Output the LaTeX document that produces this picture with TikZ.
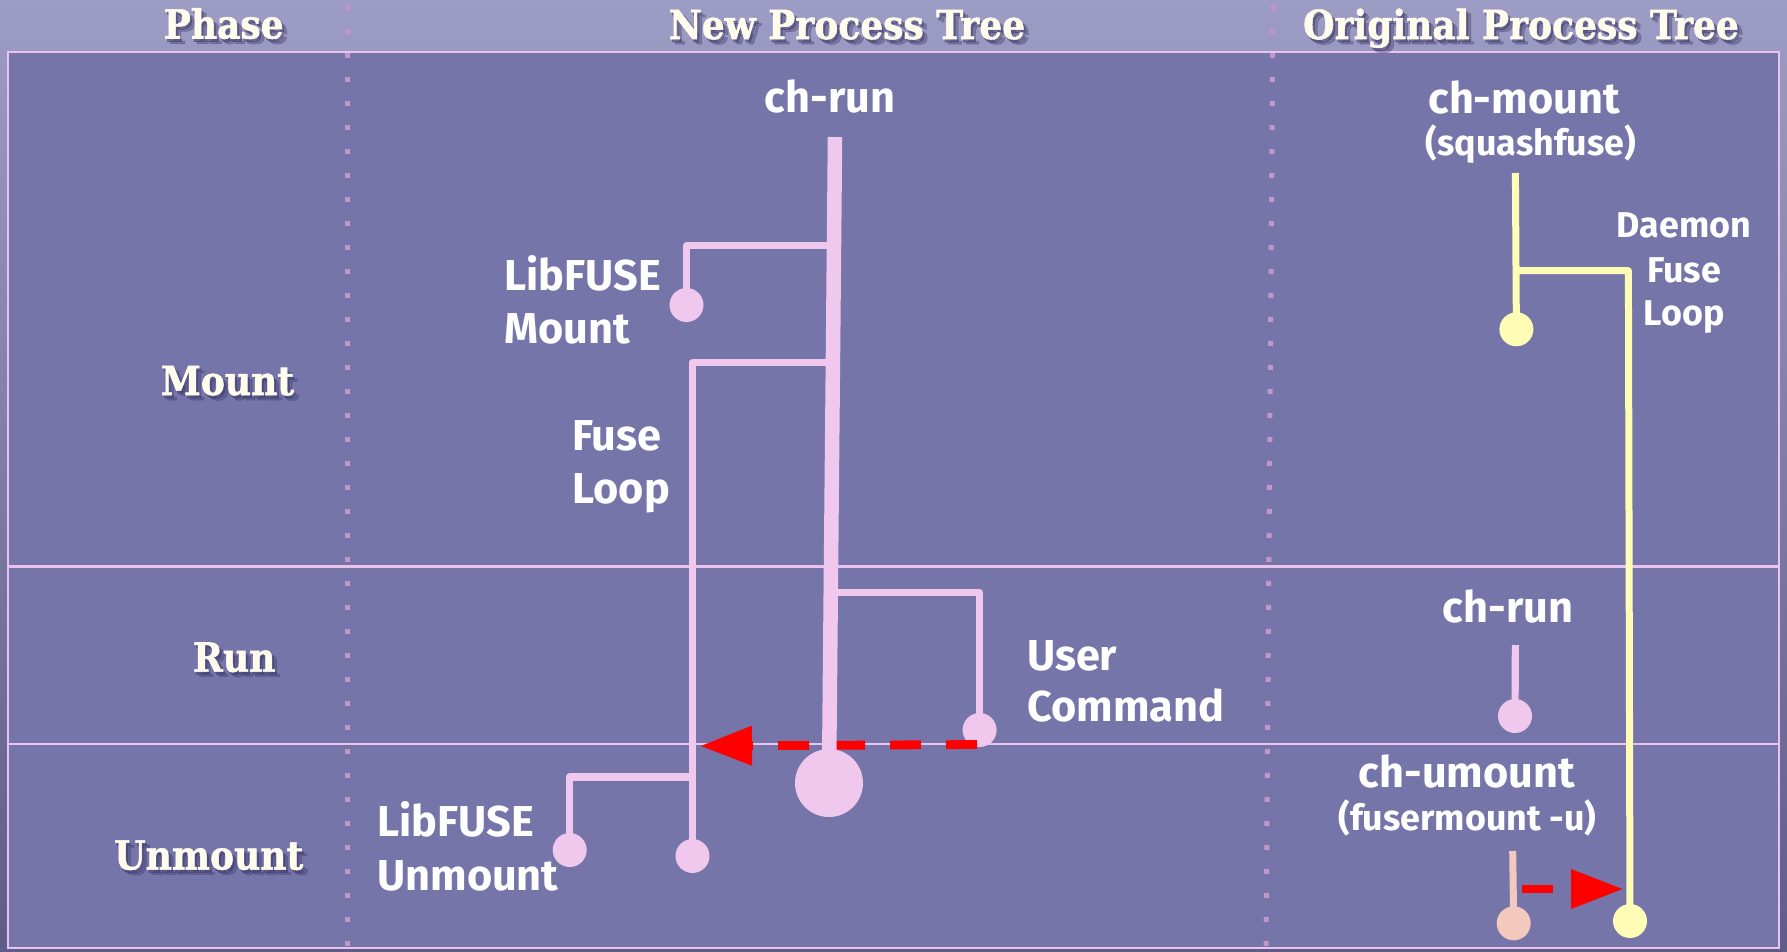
\documentclass[tikz,border=0pt]{standalone}
\usepackage{fontspec}
\setmainfont{Fira Sans}
\newfontfamily\slab{DejaVu Serif Condensed}[BoldFeatures={FakeBold=1.3}]
\usetikzlibrary{arrows.meta}
\definecolor{bgtop}{HTML}{9D9CC4}
\definecolor{bgbot}{HTML}{5E5C89}
\definecolor{panel}{HTML}{7575AA}
\definecolor{frame}{HTML}{EAC3EC}
\definecolor{dotc}{HTML}{C396CA}
\definecolor{pinkc}{HTML}{F0C8EE}
\definecolor{yellowc}{HTML}{FFFDB5}
\definecolor{peachc}{HTML}{F4C9BD}
\definecolor{cream}{HTML}{FFFCEE}
\definecolor{shadowc}{HTML}{3A3666}
\tikzset{
  lbl/.style={font=\bfseries\fontsize{12.3}{14}\selectfont, text=white, inner sep=0pt},
  sublbl/.style={font=\bfseries\fontsize{10.2}{12}\selectfont, text=white, inner sep=0pt},
  slabtxt/.style={font=\slab\bfseries\fontsize{11.4}{13}\selectfont, text=cream, inner sep=0pt, anchor=base},
  dotnode/.style={circle, fill=pinkc, inner sep=0pt, minimum size=3.4mm},
  bigdotnode/.style={circle, fill=pinkc, inner sep=0pt, minimum size=6.8mm},
  ydotnode/.style={circle, fill=yellowc, inner sep=0pt, minimum size=3.4mm},
  pdotnode/.style={circle, fill=peachc, inner sep=0pt, minimum size=3.4mm},
  trunkline/.style={draw=pinkc, line width=1.45mm},
  branchline/.style={draw=pinkc, line width=0.72mm, line join=round},
  yline/.style={draw=yellowc, line width=0.7mm, line join=round},
  pline/.style={draw=peachc, line width=0.7mm},
  redarrow/.style={draw=red, line width=0.88mm, dash pattern=on 3.1mm off 2.5mm,
     -{Triangle[length=5.2mm, width=3.75mm]}},
  frameline/.style={draw=frame, line width=0.25mm},
  dotline/.style={draw=dotc, line width=0.5mm, dash pattern=on 0.5mm off 1.9mm},
}
\newcommand\mkslab[3]{%
  \node[slabtxt, text=shadowc, opacity=0.35, xshift=0.5mm, yshift=-0.5mm] at (#2) {#3};
  \node[slabtxt, text=shadowc, opacity=0.45, xshift=0.2mm, yshift=-0.3mm] at (#2) {#3};
  \node[slabtxt] (#1) at (#2) {#3};}
\begin{document}
\begin{tikzpicture}[x=0.1mm, y=-0.1mm]
\useasboundingbox (0,0) rectangle (1787,951);
% backgrounds
\shade[top color=bgtop, bottom color=bgbot] (0,0) rectangle (1787,951);
\fill[panel] (8,52) rectangle (1779,948);
\draw[frameline] (8,52) rectangle (1779,948);
\draw[frameline] (8,566.5) -- (1779,566.5);
\draw[frameline] (8,744) -- (1779,744);
% dotted column separators
\draw[dotline] (347.5,5) -- (347.5,951);
\draw[dotline] (1273,5) -- (1266,951);
% headers
\mkslab{hphase}{223.7,38.5}{Phase}
\mkslab{hnew}{847,39}{New Process Tree}
\mkslab{horig}{1521,39}{Original Process Tree}
% phase labels
\mkslab{pmount}{227.5,395}{Mount}
\mkslab{prun}{234.2,671.7}{Run}
\mkslab{punmount}{208.7,869.5}{Unmount}
% new process tree labels
\node[lbl, anchor=base] (chrun) at (830,112) {ch-run};
\node[lbl, anchor=base west] (lfm1) at (503.6,290.7) {LibFUSE};
\node[lbl, anchor=base west] (lfm2) at (503.6,343) {Mount};
\node[lbl, anchor=base west] (fl1) at (571.7,450.7) {Fuse};
\node[lbl, anchor=base west] (fl2) at (571.7,503.3) {Loop};
\node[lbl, anchor=base west] (uc1) at (1026.5,670) {User};
\node[lbl, anchor=base west] (uc2) at (1026.5,721.7) {Command};
\node[lbl, anchor=base west] (lfu1) at (376.7,836.7) {LibFUSE};
\node[lbl, anchor=base west] (lfu2) at (376.7,890) {Unmount};
% original process tree labels
\node[lbl, anchor=base] (chmount) at (1524,113) {ch-mount};
\node[sublbl, anchor=base] (squash) at (1531,155) {(squashfuse)};
\node[sublbl, anchor=base] (dm1) at (1684,237) {Daemon};
\node[sublbl, anchor=base] (dm2) at (1684,282) {Fuse};
\node[sublbl, anchor=base] (dm3) at (1684,325) {Loop};
\node[lbl, anchor=base] (chrun2) at (1508,622.7) {ch-run};
\node[lbl, anchor=base] (chum) at (1467,787.3) {ch-umount};
\node[sublbl, anchor=base] (fum) at (1467.5,830) {(fusermount -u)};
% process end dots
\node[dotnode] (lfmdot) at (686.5,305) {};
\node[dotnode] (fldot) at (692.5,856) {};
\node[dotnode] (lfudot) at (569.7,850) {};
\node[dotnode] (ucdot) at (979.6,730) {};
\node[bigdotnode] (rundot) at (829,783) {};
\node[ydotnode] (cmdot) at (1516.4,329.3) {};
\node[ydotnode] (dfdot) at (1630,921) {};
\node[dotnode] (crdot) at (1515,716) {};
\node[pdotnode] (cudot) at (1513.7,923.3) {};
% branch points
\coordinate (runtop) at (835,137);
\coordinate (b1) at (834,245.7);
\coordinate (b2) at (833,362.7);
\coordinate (b3) at (830.8,592.7);
\coordinate (b4) at (692.5,777);
\coordinate (cmtop) at (1515.4,173);
\coordinate (b5) at (1516,270.7);
\coordinate (b5c) at (1628.4,270.7);
\coordinate (crtop) at (1515.4,645);
\coordinate (cutop) at (1512.7,851);
\coordinate (ucarr) at (977,744.5);
\coordinate (flarr) at (692.5,746);
\coordinate (cuarr) at (1522,889);
\coordinate (dfarr) at (1629.7,889);
% new tree branches
\draw[branchline] (b1) -| (lfmdot.center);
\draw[branchline] (b2) -| (fldot.center);
\draw[branchline] (b3) -| (ucdot.center);
\draw[branchline] (b4) -| (lfudot.center);
% original tree
\draw[yline] (cmtop) -- (cmdot.center);
\draw[yline] (b5) -- (b5c) -- (dfdot.center);
\draw[branchline] (crtop) -- (crdot.center);
\draw[pline] (cutop) -- (cudot.center);
% signals
\draw[redarrow, shorten >=0.75mm] (ucarr) -- (flarr);
\draw[redarrow, line width=0.8mm, shorten >=0.65mm] (cuarr) -- (dfarr);
% main trunk
\draw[trunkline] (runtop) -- (rundot.center);
\end{tikzpicture}
\end{document}
